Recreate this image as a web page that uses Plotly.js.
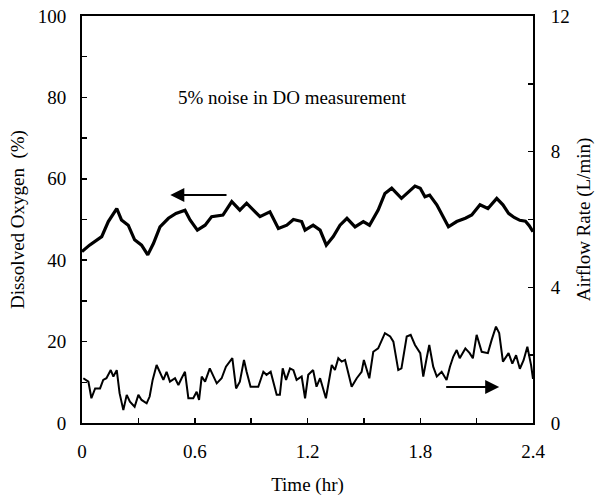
<!DOCTYPE html>
<html>
<head>
<meta charset="utf-8">
<script src="https://cdn.plot.ly/plotly-3.0.1.min.js"></script>
<style>
  html, body { margin: 0; padding: 0; background: #fff; }
  #chart { width: 595px; height: 499px; }
</style>
</head>
<body>
<div id="chart"></div>
<script>
// Dissolved oxygen (%), left axis
const doTime = [0, 0.04, 0.105, 0.14, 0.185, 0.21, 0.246, 0.28, 0.317, 0.35, 0.38, 0.415, 0.46, 0.50, 0.548,
  0.575, 0.614, 0.655, 0.69, 0.75, 0.797, 0.84, 0.876, 0.947, 1.0, 1.045, 1.09, 1.125, 1.169, 1.187, 1.23,
  1.267, 1.30, 1.337, 1.373, 1.41, 1.453, 1.497, 1.53, 1.576, 1.612, 1.648, 1.70, 1.737, 1.772, 1.80, 1.825,
  1.85, 1.888, 1.95, 1.994, 2.04, 2.074, 2.118, 2.16, 2.207, 2.24, 2.27, 2.30, 2.33, 2.36, 2.38, 2.40];
const doValue = [42.1, 43.7, 45.8, 49.5, 52.7, 49.9, 48.6, 45.0, 43.7, 41.3, 44.1, 48.2, 50.3, 51.5, 52.3,
  49.9, 47.4, 48.6, 50.7, 51.1, 54.4, 52.3, 54.0, 50.7, 51.9, 47.8, 48.6, 50.0, 49.5, 47.4, 48.6,
  47.4, 43.7, 45.8, 48.6, 50.3, 48.2, 49.5, 48.6, 52.3, 56.4, 57.7, 55.2, 56.8, 58.2, 57.7, 55.6,
  56.0, 53.6, 48.2, 49.5, 50.3, 51.1, 53.6, 52.7, 55.2, 53.6, 51.5, 50.5, 49.8, 49.6, 48.5, 47.0];

// Airflow rate (L/min), right axis
const airTime = [0.007, 0.034, 0.05, 0.07, 0.096, 0.113, 0.13, 0.153, 0.167, 0.185, 0.20, 0.22, 0.238, 0.255,
  0.28, 0.30, 0.317, 0.344, 0.36, 0.376, 0.397, 0.415, 0.433, 0.45, 0.468, 0.495, 0.513, 0.53, 0.548, 0.566,
  0.592, 0.61, 0.623, 0.637, 0.655, 0.68, 0.717, 0.743, 0.766, 0.80, 0.82, 0.84, 0.862, 0.876, 0.897, 0.938,
  0.965, 0.982, 1.004, 1.036, 1.053, 1.068, 1.086, 1.107, 1.125, 1.142, 1.169, 1.187, 1.204, 1.23, 1.248,
  1.267, 1.298, 1.329, 1.346, 1.364, 1.382, 1.40, 1.435, 1.462, 1.488, 1.50, 1.529, 1.55, 1.576, 1.612, 1.64,
  1.657, 1.683, 1.70, 1.728, 1.749, 1.772, 1.80, 1.816, 1.834, 1.848, 1.869, 1.888, 1.914, 1.94, 1.958, 1.976,
  1.994, 2.01, 2.04, 2.063, 2.08, 2.10, 2.127, 2.16, 2.18, 2.203, 2.22, 2.24, 2.27, 2.29, 2.31, 2.33, 2.35,
  2.37, 2.39, 2.40];
const airValue = [1.32, 1.22, 0.73, 1.02, 1.02, 1.27, 1.32, 1.56, 1.37, 1.56, 0.88, 0.38, 0.83, 0.63,
  0.48, 0.83, 0.68, 0.58, 0.78, 1.27, 1.71, 1.47, 1.27, 1.51, 1.22, 1.32, 1.12, 1.32, 1.51, 0.73,
  0.73, 0.92, 0.68, 1.37, 1.22, 1.61, 1.17, 1.32, 1.66, 1.91, 1.02, 1.22, 1.86, 1.51, 1.07, 1.07,
  1.51, 1.42, 1.51, 0.83, 0.83, 1.61, 1.27, 1.61, 1.56, 1.27, 1.37, 0.73, 1.42, 1.56, 1.07,
  1.32, 0.73, 1.71, 1.56, 1.91, 1.81, 1.86, 1.07, 1.32, 1.51, 1.86, 1.32, 2.10, 2.20, 2.65, 2.55,
  2.40, 1.56, 1.61, 2.55, 2.60, 2.30, 2.06, 1.37, 1.91, 2.30, 1.66, 1.37, 1.51, 1.27, 1.66, 1.96,
  2.15, 1.91, 2.20, 2.06, 1.91, 2.60, 2.10, 2.06, 2.45, 2.84, 2.65, 1.81, 2.06, 1.75, 2.00, 1.60, 1.85,
  2.25, 1.70, 1.30];

// Axis ticks
const xTickVals = [0, 0.3, 0.6, 0.9, 1.2, 1.5, 1.8, 2.1, 2.4];
const xTickText = ['0', '', '0.6', '', '1.2', '', '1.8', '', '2.4'];
const yTickVals = [0, 10, 20, 30, 40, 50, 60, 70, 80, 90, 100];
const yTickText = ['0', '', '20', '', '40', '', '60', '', '80', '', '100'];
const y2TickVals = [0, 2, 4, 6, 8, 10, 12];
const y2TickText = ['0', '', '4', '', '8', '', '12'];

const SERIF = 'Liberation Serif';
// fresh font object for each text element
function serifFont() {
  return { family: SERIF, size: 19, color: '#000' };
}

const traces = [
  {
    x: doTime, y: doValue, type: 'scatter', mode: 'lines',
    line: { color: '#000', width: 3.2 }, yaxis: 'y', showlegend: false, hoverinfo: 'skip'
  },
  {
    x: airTime, y: airValue, type: 'scatter', mode: 'lines',
    line: { color: '#000', width: 2 }, yaxis: 'y2', showlegend: false, hoverinfo: 'skip'
  }
];

function axisBase() {
  return {
    showgrid: false, zeroline: false, showline: true, linecolor: '#000', linewidth: 2,
    ticks: 'inside', ticklen: 5, tickwidth: 1.5, tickcolor: '#000',
    tickfont: serifFont(), automargin: false
  };
}

const layout = {
  width: 595, height: 499,
  margin: { l: 82, r: 62, t: 16, b: 76 },
  paper_bgcolor: '#fff', plot_bgcolor: '#fff',
  font: { family: SERIF, size: 19, color: '#000' },
  xaxis: Object.assign(axisBase(), {
    range: [0, 2.4], tickmode: 'array', tickvals: xTickVals, ticktext: xTickText,
    mirror: true, ticklabelstandoff: 10,
    title: { text: 'Time (hr)', font: serifFont(), standoff: 17 }
  }),
  yaxis: Object.assign(axisBase(), {
    range: [0, 100], tickmode: 'array', tickvals: yTickVals, ticktext: yTickText,
    ticklabelstandoff: 10,
    title: { text: 'Dissolved Oxygen  (%)', font: serifFont(), standoff: 8 }
  }),
  yaxis2: Object.assign(axisBase(), {
    range: [0, 12], overlaying: 'y', side: 'right',
    tickmode: 'array', tickvals: y2TickVals, ticktext: y2TickText,
    ticklabelstandoff: 12,
    title: { text: 'Airflow Rate (L/min)', font: serifFont(), standoff: 10 }
  }),
  annotations: [
    {
      x: 1.12, y: 80, xref: 'x', yref: 'y', text: '5% noise in DO measurement',
      showarrow: false, font: serifFont()
    },
    {
      // arrow pointing toward the left axis for the DO curve
      x: 0.47, y: 56, xref: 'x', yref: 'y',
      ax: 0.777, ay: 56, axref: 'x', ayref: 'y',
      showarrow: true, arrowhead: 2, arrowsize: 1.4, arrowwidth: 2, arrowcolor: '#000', text: ''
    },
    {
      // arrow pointing toward the right axis for the airflow curve
      x: 2.22, y: 1.06, xref: 'x', yref: 'y2',
      ax: 1.93, ay: 1.06, axref: 'x', ayref: 'y2',
      showarrow: true, arrowhead: 2, arrowsize: 1.4, arrowwidth: 2, arrowcolor: '#000', text: ''
    }
  ]
};

Plotly.newPlot('chart', traces, layout, { staticPlot: true, displayModeBar: false });
</script>
</body>
</html>
